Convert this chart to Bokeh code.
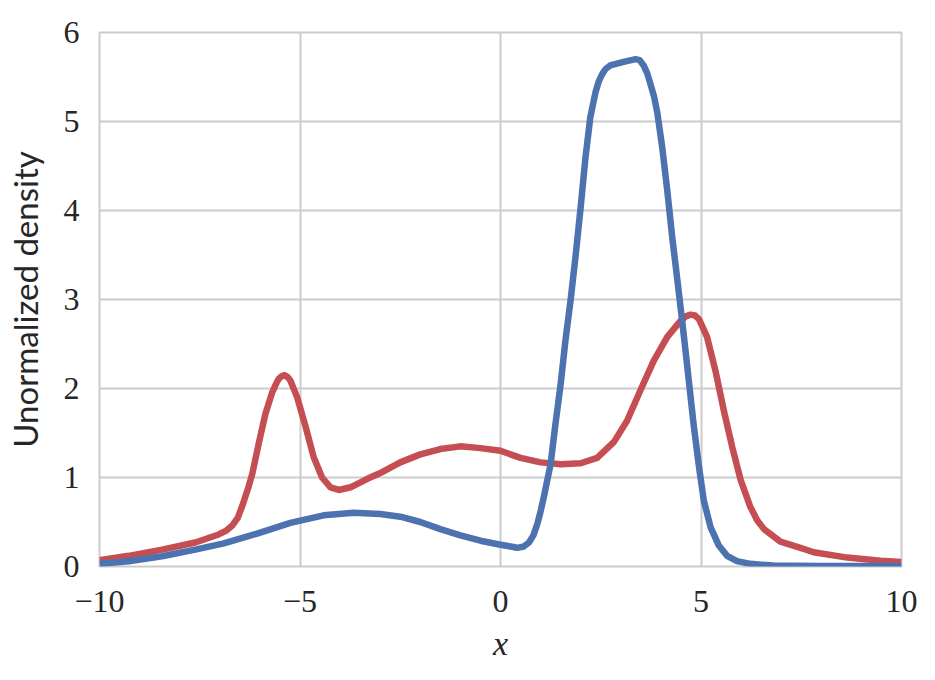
from bokeh.plotting import figure
from bokeh.models import Range1d, FixedTicker
from bokeh.embed import file_html
from bokeh.resources import INLINE

# Data
blue_x = [-10.0, -9.27, -8.44, -7.61, -6.9, -6.07, -5.24, -4.41, -3.66, -3.0, -2.5, -2.0, -1.5,
          -1.0, -0.5, 0.0, 0.25, 0.42, 0.58, 0.71, 0.82, 0.92, 1.00, 1.08, 1.25, 1.37, 1.50,
          1.62, 1.75, 1.87, 2.0, 2.12, 2.24, 2.37, 2.45, 2.54, 2.62, 2.74, 3.07, 3.37, 3.47,
          3.57, 3.66, 3.74, 3.83, 3.91, 4.03, 4.16, 4.28, 4.41, 4.53, 4.62, 4.70, 4.82, 4.95,
          5.07, 5.24, 5.44, 5.65, 5.90, 6.23, 6.8, 8.0, 10.0]
blue_y = [0.03, 0.06, 0.115, 0.19, 0.26, 0.37, 0.49, 0.575, 0.605, 0.59, 0.56, 0.50, 0.42,
          0.35, 0.29, 0.245, 0.225, 0.21, 0.225, 0.27, 0.35, 0.48, 0.62, 0.78, 1.15, 1.60, 2.05,
          2.54, 3.0, 3.48, 4.04, 4.60, 5.05, 5.33, 5.45, 5.535, 5.59, 5.63, 5.67, 5.70, 5.69,
          5.63, 5.54, 5.42, 5.28, 5.10, 4.72, 4.22, 3.71, 3.22, 2.76, 2.40, 2.07, 1.58, 1.12,
          0.74, 0.44, 0.24, 0.12, 0.06, 0.03, 0.01, 0.005, 0.005]

red_x = [-10.0, -9.27, -8.44, -7.61, -7.03, -6.85, -6.69, -6.55, -6.44, -6.30, -6.19, -6.03,
         -5.86, -5.69, -5.60, -5.53, -5.45, -5.38, -5.31, -5.24, -5.07, -4.86, -4.66, -4.45,
         -4.24, -4.03, -3.74, -3.32, -3.0, -2.5, -2.0, -1.5, -1.0, -0.5, 0.0, 0.5, 1.0, 1.5,
         2.0, 2.41, 2.83, 3.16, 3.49, 3.82, 4.16, 4.49, 4.62, 4.74, 4.85, 4.95, 5.15, 5.36,
         5.57, 5.78, 5.99, 6.23, 6.40, 6.57, 6.98, 7.48, 7.81, 8.65, 9.48, 10.0]
red_y = [0.07, 0.12, 0.19, 0.27, 0.36, 0.40, 0.46, 0.55, 0.68, 0.87, 1.04, 1.38,
         1.72, 1.96, 2.05, 2.11, 2.14, 2.15, 2.13, 2.09, 1.90, 1.57, 1.23, 1.00,
         0.89, 0.86, 0.89, 0.985, 1.05, 1.17, 1.26, 1.32, 1.35, 1.33, 1.30, 1.22, 1.17, 1.15,
         1.16, 1.22, 1.40, 1.64, 1.98, 2.31, 2.58, 2.76, 2.81, 2.83, 2.82, 2.78, 2.58, 2.20,
         1.75, 1.34, 0.97, 0.67, 0.52, 0.42, 0.28, 0.21, 0.16, 0.10, 0.065, 0.05]

x_ticks = [-10, -5, 0, 5, 10]
x_tick_labels = ["\u221210", "\u22125", "0", "5", "10"]
y_ticks = [0, 1, 2, 3, 4, 5, 6]
y_tick_labels = ["0", "1", "2", "3", "4", "5", "6"]

p = figure(width=927, height=672, output_backend="svg", toolbar_location=None,
           x_range=Range1d(-10, 10), y_range=Range1d(0, 6),
           min_border_left=99, min_border_right=26, min_border_top=32, min_border_bottom=106)

p.line(red_x, red_y, line_color="#C44E52", line_width=6.5, line_join="round")
p.line(blue_x, blue_y, line_color="#4C72B0", line_width=6.5, line_join="round")

p.background_fill_color = "white"
p.border_fill_color = "white"
p.outline_line_color = "#cccccc"
p.outline_line_width = 2

p.xaxis.ticker = FixedTicker(ticks=x_ticks)
p.yaxis.ticker = FixedTicker(ticks=y_ticks)
p.xaxis.major_label_overrides = {t: l for t, l in zip(x_ticks, x_tick_labels)}
p.yaxis.major_label_overrides = {t: l for t, l in zip(y_ticks, y_tick_labels)}

for ax in (p.xaxis, p.yaxis):
    ax.axis_line_color = None
    ax.major_tick_line_color = None
    ax.minor_tick_line_color = None
    ax.major_tick_out = 0
    ax.major_tick_in = 0
    ax.major_label_text_font = "Liberation Serif"
    ax.major_label_text_font_size = "32px"
    ax.major_label_text_color = "#262626"

p.xaxis.major_label_standoff = 24
p.yaxis.major_label_standoff = 20

p.xaxis.axis_label = "x"
p.xaxis.axis_label_text_font = "Liberation Serif"
p.xaxis.axis_label_text_font_style = "italic"
p.xaxis.axis_label_text_font_size = "34px"
p.xaxis.axis_label_text_color = "#262626"
p.xaxis.axis_label_standoff = 10

p.yaxis.axis_label = "Unormalized density"
p.yaxis.axis_label_text_font = "Lato"
p.yaxis.axis_label_text_font_style = "normal"
p.yaxis.axis_label_text_font_size = "33px"
p.yaxis.axis_label_text_color = "#262626"
p.yaxis.axis_label_standoff = 16

p.xgrid.ticker = FixedTicker(ticks=x_ticks)
p.ygrid.ticker = FixedTicker(ticks=y_ticks)
p.grid.grid_line_color = "#cccccc"
p.grid.grid_line_width = 2

open("out.html", "w").write(file_html(p, INLINE))
